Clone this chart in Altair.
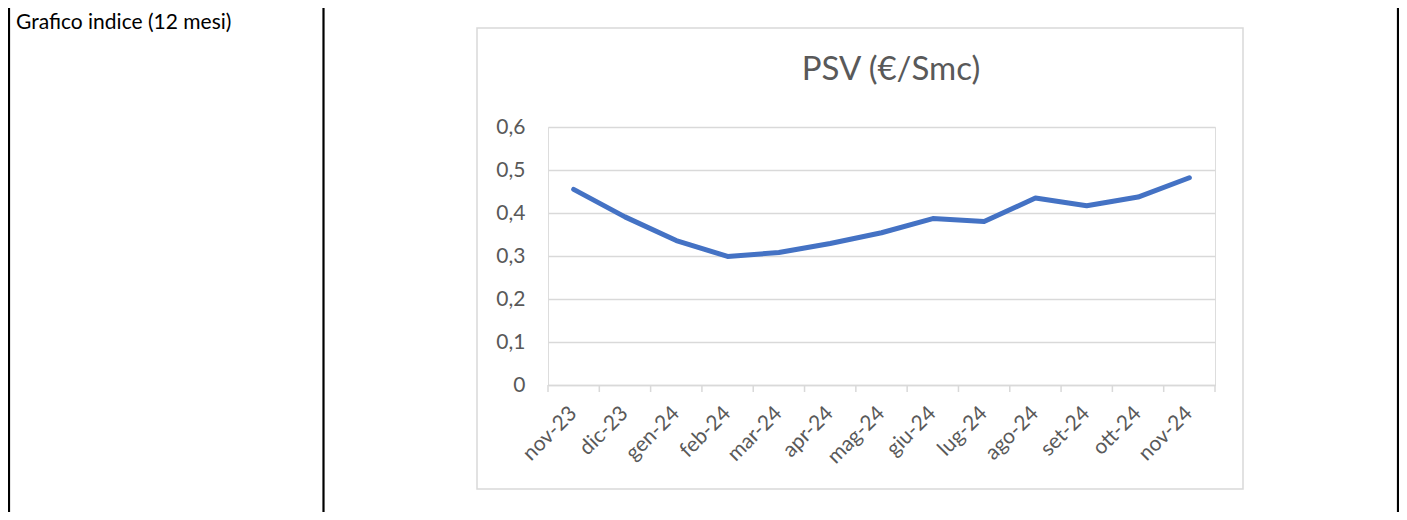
import altair as alt
import pandas as pd

months = ["nov-23", "dic-23", "gen-24", "feb-24", "mar-24", "apr-24", "mag-24",
          "giu-24", "lug-24", "ago-24", "set-24", "ott-24", "nov-24"]
psv = [0.455, 0.391, 0.336, 0.299, 0.308, 0.329, 0.354,
       0.387, 0.380, 0.435, 0.417, 0.437, 0.482]
y_ticks = [0, 0.1, 0.2, 0.3, 0.4, 0.5, 0.6]
y_labels = ["0", "0,1", "0,2", "0,3", "0,4", "0,5", "0,6"]
title_text = "PSV (€/Smc)"
cell_text = "Grafico indice (12 mesi)"

FONT = "Lato"
W, H = 667, 258
df = pd.DataFrame({"mese": months, "valore": psv})
one = pd.DataFrame({"k": [0]})

label_expr = " : ".join(
    [f"datum.value < {v + 0.05:.2f} ? '{l}'" for v, l in zip(y_ticks[:-1], y_labels[:-1])]
) + f" : '{y_labels[-1]}'"

xscale = alt.Scale(domain=months, paddingInner=0, paddingOuter=0)

line = alt.Chart(df).mark_line(
    color="#4472C4", strokeWidth=5, strokeCap="round", strokeJoin="round"
).encode(
    x=alt.X("mese:N", sort=months, scale=xscale,
            axis=alt.Axis(title=None, labelAngle=-45, labelAlign="right",
                          labelBaseline="middle", labelPadding=25, ticks=False,
                          domain=True, domainColor="#d9d9d9", domainWidth=1.5,
                          labelColor="#595959", labelFont=FONT, labelFontSize=21,
                          grid=False)),
    y=alt.Y("valore:Q", scale=alt.Scale(domain=[0, 0.6], nice=False),
            axis=alt.Axis(title=None, values=y_ticks, labelExpr=label_expr,
                          ticks=False, domain=False, grid=True,
                          gridColor="#d9d9d9", gridWidth=1.5,
                          labelColor="#595959", labelFont=FONT, labelFontSize=21,
                          labelPadding=23)),
)

ticks = alt.Chart(df).mark_rule(color="#d9d9d9", strokeWidth=1.5).encode(
    x=alt.X("mese:N", sort=months, scale=xscale, bandPosition=0),
    y=alt.value(H), y2=alt.value(H + 7),
)
tick_end = alt.Chart(one).mark_rule(color="#d9d9d9", strokeWidth=1.5).encode(
    x=alt.value(W), y=alt.value(H), y2=alt.value(H + 7)
)

box = alt.Chart(one).mark_rect(filled=False, stroke="#d9d9d9", strokeWidth=1.5).encode(
    x=alt.value(-71), x2=alt.value(695), y=alt.value(-99), y2=alt.value(362)
)

title = alt.Chart(one).mark_text(
    text=title_text, font=FONT, fontSize=33, color="#595959",
    align="center", baseline="middle"
).encode(x=alt.value(343), y=alt.value(-57))

cell = alt.Chart(one).mark_text(
    text=cell_text, font=FONT, fontSize=21, color="black",
    align="left", baseline="top"
).encode(x=alt.value(-532), y=alt.value(-115))

def vline(xv):
    return alt.Chart(one).mark_rule(color="black", strokeWidth=2.2).encode(
        x=alt.value(xv), y=alt.value(-119), y2=alt.value(385)
    )

chart = alt.layer(
    box, ticks, tick_end, line, title, cell, vline(-539), vline(-224.5), vline(850)
).properties(
    width=W, height=H,
    autosize=alt.AutoSizeParams(type="none"),
    padding={"left": 540, "top": 119, "right": 184, "bottom": 127},
).configure_view(stroke=None).configure(background="white")

chart.save("out.html", embed_options={"renderer": "svg", "actions": False})
